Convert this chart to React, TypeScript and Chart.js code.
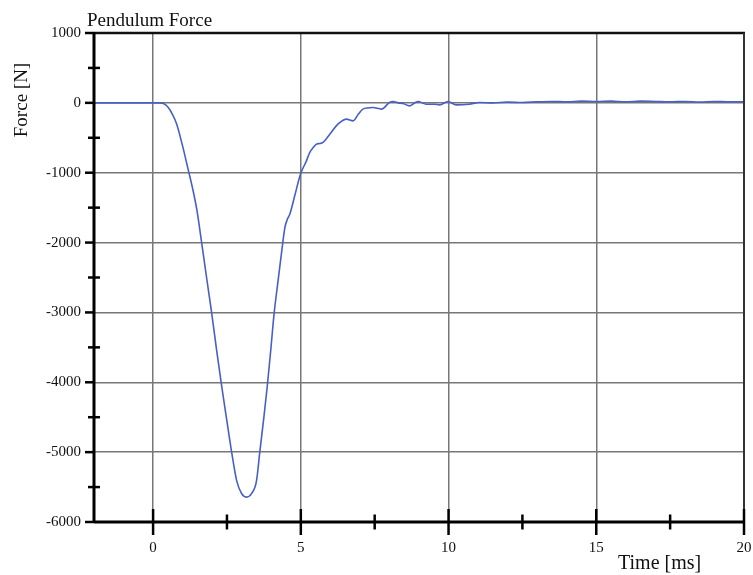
import React, { useEffect, useRef } from 'react';
import { Chart, registerables } from 'chart.js';

Chart.register(...registerables);

const chartTitle = 'Pendulum Force';
const xAxisTitle = 'Time [ms]';
const yAxisTitle = 'Force [N]';

const timeMs = [
  -2, 0, 0.2, 0.35, 0.5, 0.65, 0.8, 1.0, 1.19, 1.35, 1.48, 1.64, 1.81, 1.98, 2.15,
  2.32, 2.5, 2.66, 2.83, 3.0, 3.17, 3.33, 3.5, 3.61, 3.75, 3.86, 3.98, 4.1, 4.23,
  4.39, 4.46, 4.55, 4.63, 4.8, 4.99, 5.19, 5.3, 5.42, 5.53, 5.64, 5.75, 5.98, 6.2,
  6.32, 6.54, 6.77, 6.95, 7.1, 7.44, 7.73, 8.0, 8.12, 8.3, 8.46, 8.68, 8.96, 9.25,
  9.5, 9.7, 9.98, 10.26, 10.7, 11.05, 11.5, 12.0, 12.5, 13.0, 13.5, 14.0, 14.5,
  15.0, 15.5, 16.0, 16.5, 17.0, 17.5, 18.0, 18.5, 19.0, 19.5, 20,
];
const forceN = [
  0, 0, 0, -10, -60, -160, -305, -620, -960, -1250, -1530, -1990, -2500, -3000, -3540,
  -4050, -4560, -5003, -5411, -5595, -5644, -5595, -5411, -5003, -4500, -4075, -3550, -3000, -2548,
  -2000, -1785, -1660, -1590, -1320, -1020, -830, -711, -639, -591, -582, -567, -448, -329,
  -281, -233, -258, -160, -90, -67, -90, 5, 19, 0, -10, -43, 19, -19,
  -20, -29, 19, -29, -19, 5, 0, 10, 5, 15, 20, 15, 25,
  20, 25, 15, 25, 20, 15, 20, 10, 20, 15, 15,
];

const xTickValues = [0, 2.5, 5, 7.5, 10, 12.5, 15, 17.5, 20];
const xLabelValues = [0, 5, 10, 15, 20];
const yTickValues = [1000, 500, 0, -500, -1000, -1500, -2000, -2500, -3000, -3500, -4000, -4500, -5000, -5500, -6000];
const yLabelValues = [1000, 0, -1000, -2000, -3000, -4000, -5000, -6000];
const xGridValues = [0, 5, 10, 15];
const yGridValues = [0, -1000, -2000, -3000, -4000, -5000];

const SERIF = "'Liberation Serif', 'Times New Roman', serif";

const decorPlugin = {
  id: 'decor',
  afterDraw(chart: any) {
    const { ctx, chartArea, scales } = chart;
    const { left, right, top, bottom } = chartArea;
    const xs = scales.x;
    const ys = scales.y;
    ctx.save();
    ctx.lineCap = 'butt';
    // top border
    ctx.strokeStyle = '#111';
    ctx.lineWidth = 2.5;
    ctx.beginPath();
    ctx.moveTo(left, top);
    ctx.lineTo(right + 1, top);
    ctx.stroke();
    // right border
    ctx.strokeStyle = '#333';
    ctx.lineWidth = 2;
    ctx.beginPath();
    ctx.moveTo(right, top);
    ctx.lineTo(right, bottom + 13);
    ctx.stroke();
    // left axis
    ctx.strokeStyle = '#000';
    ctx.lineWidth = 3;
    ctx.beginPath();
    ctx.moveTo(left, top - 1);
    ctx.lineTo(left, bottom + 1);
    ctx.stroke();
    // bottom axis
    ctx.beginPath();
    ctx.moveTo(left, bottom);
    ctx.lineTo(right, bottom);
    ctx.stroke();
    // y ticks
    ctx.lineWidth = 2.5;
    yTickValues.forEach((v) => {
      const py = ys.getPixelForValue(v);
      ctx.beginPath();
      if (yLabelValues.includes(v)) {
        ctx.moveTo(left - 9, py);
        ctx.lineTo(left, py);
      } else {
        ctx.moveTo(left - 6, py);
        ctx.lineTo(left + 6, py);
      }
      ctx.stroke();
    });
    // x ticks
    xTickValues.forEach((v) => {
      const px = xs.getPixelForValue(v);
      ctx.beginPath();
      if (xLabelValues.includes(v)) {
        ctx.moveTo(px, bottom - 13);
        ctx.lineTo(px, bottom + 13);
      } else {
        ctx.moveTo(px, bottom - 7.5);
        ctx.lineTo(px, bottom + 7.5);
      }
      ctx.stroke();
    });
    // texts
    ctx.fillStyle = '#111';
    ctx.textBaseline = 'alphabetic';
    ctx.textAlign = 'left';
    ctx.font = `19px ${SERIF}`;
    ctx.fillText(chartTitle, 87, 26);
    ctx.font = `20px ${SERIF}`;
    ctx.fillText(xAxisTitle, 618, 569);
    ctx.save();
    ctx.translate(27, 100);
    ctx.rotate(-Math.PI / 2);
    ctx.textAlign = 'center';
    ctx.font = `19px ${SERIF}`;
    ctx.fillText(yAxisTitle, 0, 0);
    ctx.restore();
    ctx.restore();
  },
};

export default function App() {
  const canvasRef = useRef<HTMLCanvasElement | null>(null);

  useEffect(() => {
    document.body.style.margin = '0';
    const canvas = canvasRef.current;
    if (!canvas) return;
    const points = timeMs.map((t, i) => ({ x: t, y: forceN[i] }));
    const chart = new Chart(canvas, {
      type: 'line',
      data: {
        datasets: [
          {
            data: points,
            borderColor: '#4760c6',
            borderWidth: 1.6,
            pointRadius: 0,
            fill: false,
            cubicInterpolationMode: 'monotone',
          },
        ],
      },
      options: {
        animation: false,
        responsive: false,
        maintainAspectRatio: false,
        layout: { padding: { top: 33, right: 9, left: 0, bottom: 0 } },
        plugins: {
          legend: { display: false },
          title: { display: false },
          tooltip: { enabled: false },
        },
        scales: {
          x: {
            type: 'linear',
            min: -2,
            max: 20,
            afterBuildTicks: (scale: any) => {
              scale.ticks = xTickValues.map((v) => ({ value: v }));
            },
            afterFit: (scale: any) => {
              scale.height = 53;
              scale.paddingLeft = 0;
              scale.paddingRight = 0;
            },
            border: { display: false },
            grid: {
              drawTicks: false,
              lineWidth: 1.5,
              color: (c: any) => (xGridValues.includes(c.tick?.value) ? '#777' : 'rgba(0,0,0,0)'),
            },
            ticks: {
              autoSkip: false,
              maxRotation: 0,
              padding: 17,
              color: '#111',
              font: { family: SERIF, size: 15 },
              callback: (v: any) => (xLabelValues.includes(Number(v)) ? String(v) : ''),
            },
          },
          y: {
            type: 'linear',
            min: -6000,
            max: 1000,
            afterBuildTicks: (scale: any) => {
              scale.ticks = yTickValues.map((v) => ({ value: v }));
            },
            afterFit: (scale: any) => {
              scale.width = 94;
              scale.paddingTop = 0;
              scale.paddingBottom = 0;
            },
            border: { display: false },
            grid: {
              drawTicks: false,
              lineWidth: 1.5,
              color: (c: any) => (yGridValues.includes(c.tick?.value) ? '#777' : 'rgba(0,0,0,0)'),
            },
            ticks: {
              autoSkip: false,
              padding: 13,
              color: '#111',
              font: { family: SERIF, size: 15 },
              callback: (v: any) => (yLabelValues.includes(Number(v)) ? String(v) : ''),
            },
          },
        },
      },
      plugins: [decorPlugin],
    });
    return () => chart.destroy();
  }, []);

  return (
    <div style={{ width: 753, height: 575, background: '#fff' }}>
      <canvas ref={canvasRef} width={753} height={575} style={{ display: 'block' }} />
    </div>
  );
}
